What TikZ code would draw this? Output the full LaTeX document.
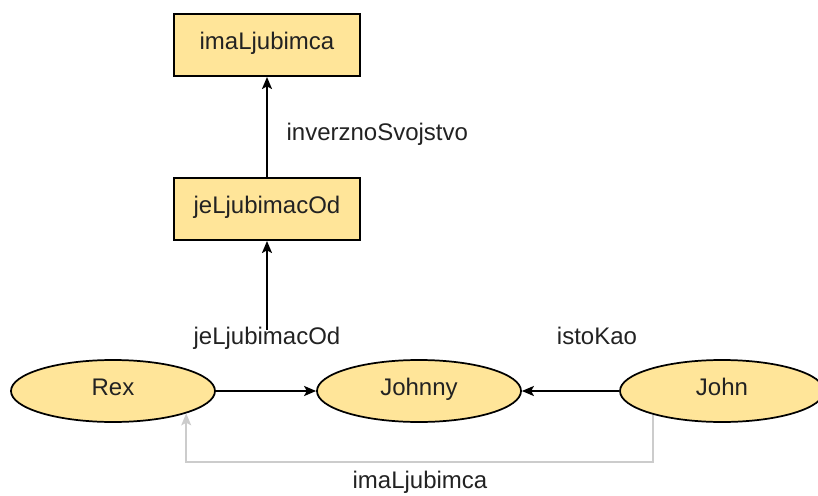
\documentclass[tikz,border=0pt]{standalone}
\usepackage{fontspec}
\setmainfont{Liberation Sans}
\usetikzlibrary{arrows.meta,shapes.geometric}
\definecolor{boxfill}{HTML}{FFE599}
\definecolor{txt}{HTML}{222222}
\definecolor{lightline}{HTML}{CCCCCC}
\begin{document}
\begin{tikzpicture}[x=0.75pt,y=-0.75pt,
  font=\fontsize{18}{21}\selectfont,
  every node/.style={text=txt,text height=0.72em,text depth=0pt},
  classbox/.style={draw=black,fill=boxfill,line width=1.5pt,minimum width=186*0.75pt,minimum height=62*0.75pt,inner sep=0pt},
  indiv/.style={ellipse,draw=black,fill=boxfill,line width=1.3pt,minimum width=204*0.75pt,minimum height=62*0.75pt,inner sep=0pt},
  conn/.style={line width=1.5pt,draw=black,-{Stealth[length=9pt,width=7.5pt,inset=2pt]}},
  grayconn/.style={line width=1.2pt,draw=lightline,-{Stealth[length=9pt,width=7.5pt,inset=2pt]}},
  lbl/.style={inner sep=1pt}]
\useasboundingbox (0,0) rectangle (818,496);
\node[classbox] (ima) at (267,45) {imaLjubimca};
\node[classbox] (jel) at (267,209) {jeLjubimacOd};
\node[indiv] (Rex) at (113,391) {Rex};
\node[indiv] (Johnny) at (419,391) {Johnny};
\node[indiv] (John) at (722,391) {John};
\node[lbl,anchor=west] (inv) at (285,136) {inverznoSvojstvo};
\node[lbl] (jelab) at (267,340) {jeLjubimacOd};
\node[lbl] (isto) at (597,340) {istoKao};
\node[lbl] (imalab) at (420,484) {imaLjubimca};
\draw[conn] (jel) -- (ima);
\draw[conn,shorten <=3pt] (jelab.north) -- (jel);
\draw[conn] (Rex) -- (Johnny);
\draw[conn] (John) -- (Johnny);
\coordinate (lvl) at (0,462);
\coordinate (g) at (Rex.-17 |- lvl);
\draw[grayconn] (John.199.4) |- (g) -- (Rex.-17);
\end{tikzpicture}
\end{document}
